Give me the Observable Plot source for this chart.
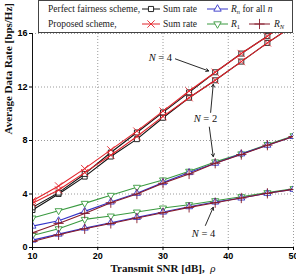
<!DOCTYPE html>
<html>
<head>
<meta charset="utf-8">
<script src="https://cdn.jsdelivr.net/npm/d3@7"></script>
<script src="https://cdn.jsdelivr.net/npm/@observablehq/plot@0.6"></script>
<style>
  body { margin: 0; background: #fff; }
  #chart { position: relative; width: 296px; height: 278px; }
  #chart svg { position: absolute; left: 0; top: 0; }
</style>
</head>
<body>
<div id="chart"></div>
<script>
// Transmit SNR (dB) sample points
const snr = [10, 14, 18, 22, 26, 30, 34, 38, 42, 46, 50];

// Sum rates [bps/Hz]
const sumPerfectN2  = [2.8, 4.0, 5.3, 6.8, 8.1, 9.7, 11.2, 12.5, 13.9, 15.3, 16.6];
const sumPerfectN4  = [3.0, 4.1, 5.5, 7.1, 8.6, 10.1, 11.6, 13.1, 14.5, 15.8, 17.2];
const sumProposedN2 = [3.3, 4.3, 5.6, 6.9, 8.3, 9.8, 11.2, 12.5, 13.9, 15.3, 16.6];
const sumProposedN4 = [3.5, 4.6, 5.9, 7.3, 8.7, 10.2, 11.7, 13.1, 14.5, 15.8, 17.2];

// Per-user rates, N = 2
const rnPerfectN2 = [1.6, 2.0, 2.7, 3.4, 4.05, 4.85, 5.6, 6.3, 7.0, 7.65, 8.3];
const r1ProposedN2 = [2.2, 2.75, 3.3, 3.9, 4.5, 5.05, 5.7, 6.4, 7.0, 7.7, 8.35];
const rNProposedN2 = [1.1, 1.8, 2.55, 3.35, 4.0, 4.8, 5.5, 6.3, 6.95, 7.65, 8.3];

// Per-user rates, N = 4
const rnPerfectN4 = [0.55, 1.0, 1.45, 1.85, 2.25, 2.65, 3.05, 3.4, 3.7, 4.05, 4.35];
const r1ProposedN4 = [0.9, 1.4, 2.1, 2.35, 2.65, 2.95, 3.2, 3.5, 3.8, 4.1, 4.4];
const rNProposedN4 = [0.45, 0.95, 1.4, 1.8, 2.2, 2.6, 3.0, 3.35, 3.7, 4.05, 4.35];

// Axis ticks
const xTicks = [10, 20, 30, 40, 50];
const yTicks = [0, 4, 8, 12, 16];

// Callout labels and their arrows (data coordinates)
const labels = [
  {x: 29.6, y: 14.2, text: "N = 4"},
  {x: 36.5, y: 9.6, text: "N = 2"},
  {x: 36.2, y: 1.05, text: "N = 4"}
];
const arrows = [
  {x1: 31.9, y1: 14.1, x2: 37.0, y2: 13.2},
  {x1: 37.3, y1: 10.1, x2: 37.7, y2: 12.2},
  {x1: 37.1, y1: 9.0, x2: 37.7, y2: 6.8},
  {x1: 36.5, y1: 1.65, x2: 37.7, y2: 3.0}
];

const C = {
  black: "#111111",
  red: "#e3242b",
  blue: "#3434c8",
  green: "#3a9a40",
  maroon: "#861a2a"
};

// Drawing order: per-user bundles first, sum rates on top
const series = [
  {values: r1ProposedN4, color: C.green, symbol: "triangle", rotate: 180},
  {values: rnPerfectN4, color: C.blue, symbol: "triangle", rotate: 0},
  {values: rNProposedN4, color: C.maroon, symbol: "plus", rotate: 0},
  {values: r1ProposedN2, color: C.green, symbol: "triangle", rotate: 180},
  {values: rnPerfectN2, color: C.blue, symbol: "triangle", rotate: 0},
  {values: rNProposedN2, color: C.maroon, symbol: "plus", rotate: 0},
  {values: sumPerfectN2, color: C.black, symbol: "square", rotate: 0},
  {values: sumPerfectN4, color: C.black, symbol: "square", rotate: 0},
  {values: sumProposedN2, color: C.red, symbol: "times", rotate: 0},
  {values: sumProposedN4, color: C.red, symbol: "times", rotate: 0}
];

const seriesMarks = series.flatMap(s => {
  const pts = snr.map((x, i) => ({x, y: s.values[i]}));
  const size = s.symbol === "triangle" ? 2.6 : s.symbol === "square" ? 2.8 : 3.4;
  return [
    Plot.line(pts, {x: "x", y: "y", stroke: s.color, strokeWidth: 1.1, clip: true}),
    Plot.dot(pts, {x: "x", y: "y", symbol: s.symbol, r: size, rotate: s.rotate,
      stroke: s.color, fill: (s.symbol === "plus" || s.symbol === "times") ? "none" : "white",
      strokeWidth: 0.9, clip: true})
  ];
});

const serif = "'Liberation Serif', 'Times New Roman', serif";
const sans = "'Liberation Sans', Arial, sans-serif";

const plot = Plot.plot({
  width: 296,
  height: 278,
  marginTop: 33,
  marginLeft: 32,
  marginRight: 3,
  marginBottom: 31,
  style: {background: "transparent"},
  x: {domain: [10, 50]},
  y: {domain: [0, 16]},
  marks: [
    Plot.gridX(xTicks.slice(1), {stroke: "#9a9a9a", strokeOpacity: 1, strokeDasharray: "1,2"}),
    Plot.gridY(yTicks.slice(1), {stroke: "#9a9a9a", strokeOpacity: 1, strokeDasharray: "1,2"}),
    ...seriesMarks,
    Plot.arrow(arrows, {x1: "x1", y1: "y1", x2: "x2", y2: "y2", stroke: "#111",
      strokeWidth: 0.9, headLength: 5, bend: 0}),
    Plot.text(labels, {x: "x", y: "y", text: "text", fontFamily: serif, fontSize: 10.5,
      fill: "#111", className: "callout"}),
    Plot.ruleX([10], {stroke: "#111", strokeWidth: 1}),
    Plot.ruleY([0], {stroke: "#111", strokeWidth: 1}),
    Plot.axisX(xTicks, {tickSize: 3, tickPadding: 2, fontFamily: sans, fontWeight: "bold",
      fontSize: 9, label: null}),
    Plot.axisY(yTicks, {tickSize: 3, tickPadding: 2, fontFamily: sans, fontWeight: "bold",
      fontSize: 9, label: null}),
    Plot.text(["Average Data Rate [bps/Hz]"], {frameAnchor: "left", dx: -24, dy: -6,
      rotate: -90, fontFamily: serif, fontWeight: "bold", fontSize: 11, fill: "#111"}),
    Plot.text(["Transmit SNR [dB], ρ"], {frameAnchor: "bottom", dy: 24,
      fontFamily: serif, fontWeight: "bold", fontSize: 11, fill: "#111", className: "xtitle"})
  ]
});

// Italic variable names in callouts and axis title
d3.select(plot).selectAll(".callout text").each(function() {
  const t = this.textContent;
  this.innerHTML = `<tspan font-style="italic">N</tspan>${t.slice(1)}`;
});
d3.select(plot).selectAll(".xtitle text").each(function() {
  this.innerHTML = `Transmit SNR [dB],  <tspan font-style="italic" font-weight="normal">ρ</tspan>`;
});

const chart = document.getElementById("chart");
chart.appendChild(plot);

// Legend box
const legend = d3.select(chart).append("svg")
  .attr("width", 296).attr("height", 34);
legend.append("rect").attr("x", 38.5).attr("y", 0.5).attr("width", 254).attr("height", 32)
  .attr("fill", "white").attr("stroke", "#444").attr("stroke-width", 1);

const legendItems = [
  {row: 0, x0: 142, x1: 160, color: C.black, symbol: d3.symbolSquare, size: 26, rotate: 0, fill: "white", label: "Sum rate", lx: 163},
  {row: 0, x0: 207, x1: 228, color: C.blue, symbol: d3.symbolTriangle, size: 24, rotate: 0, fill: "white", label: "Rn", lx: 231},
  {row: 1, x0: 142, x1: 160, color: C.red, symbol: d3.symbolTimes, size: 36, rotate: 0, fill: "none", label: "Sum rate", lx: 163},
  {row: 1, x0: 207, x1: 228, color: C.green, symbol: d3.symbolTriangle, size: 24, rotate: 180, fill: "white", label: "R1", lx: 231},
  {row: 1, x0: 249, x1: 270, color: C.maroon, symbol: d3.symbolPlus, size: 36, rotate: 0, fill: "none", label: "RN", lx: 274}
];
const rowY = [9, 24];
const fontStyle = `font-family:${serif};font-size:9.5px;fill:#222`;

legend.append("text").attr("x", 48).attr("y", rowY[0] + 3.3).attr("style", fontStyle)
  .text("Perfect fairness scheme,");
legend.append("text").attr("x", 48).attr("y", rowY[1] + 3.3).attr("style", fontStyle)
  .text("Proposed scheme,");

for (const it of legendItems) {
  const y = rowY[it.row];
  legend.append("line").attr("x1", it.x0).attr("x2", it.x1).attr("y1", y).attr("y2", y)
    .attr("stroke", it.color).attr("stroke-width", 1);
  legend.append("path").attr("d", d3.symbol(it.symbol, it.size)())
    .attr("transform", `translate(${(it.x0 + it.x1) / 2},${y}) rotate(${it.rotate})`)
    .attr("fill", it.fill).attr("stroke", it.color).attr("stroke-width", 0.9);
  const t = legend.append("text").attr("x", it.lx).attr("y", y + 3.3).attr("style", fontStyle);
  if (it.label === "Sum rate") {
    t.text("Sum rate");
  } else if (it.label === "Rn") {
    t.html(`<tspan font-style="italic">R</tspan><tspan font-style="italic" font-size="6.5px" dy="2">n</tspan><tspan dy="-2"> for all </tspan><tspan font-style="italic">n</tspan>`);
  } else if (it.label === "R1") {
    t.html(`<tspan font-style="italic">R</tspan><tspan font-size="6.5px" dy="2">1</tspan>`);
  } else {
    t.html(`<tspan font-style="italic">R</tspan><tspan font-style="italic" font-size="6.5px" dy="2">N</tspan>`);
  }
}
</script>
</body>
</html>
